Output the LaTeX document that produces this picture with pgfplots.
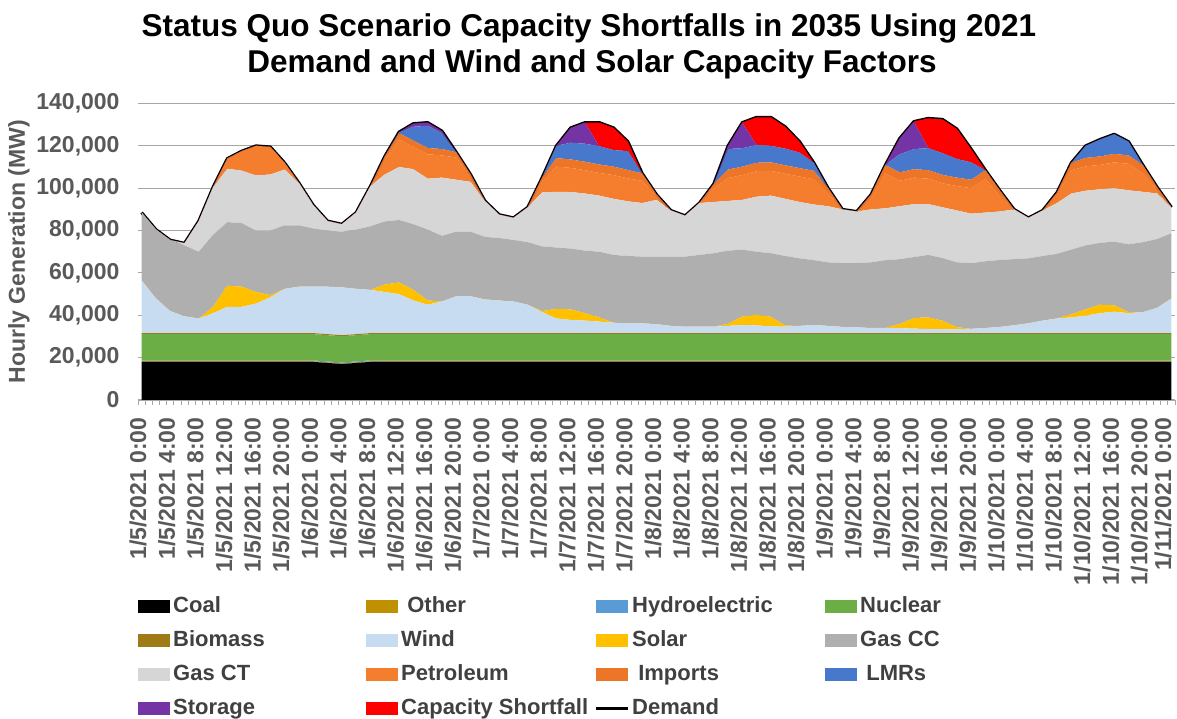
\documentclass[border=0pt]{standalone}
\usepackage{pgfplots}
\pgfplotsset{compat=1.18}
\usepackage{pgfplotstable}
\usepackage{fontspec}
\setmainfont{Liberation Sans}

\definecolor{tickgray}{HTML}{595959}
\definecolor{leggray}{HTML}{404040}
\definecolor{gridgray}{HTML}{A6A6A6}
\definecolor{cCoal}{HTML}{000000}
\definecolor{cOther}{HTML}{BF9000}
\definecolor{cHydro}{HTML}{5B9BD5}
\definecolor{cNuclear}{HTML}{6CAE46}
\definecolor{cBiomass}{HTML}{9E7B14}
\definecolor{cWind}{HTML}{C8DCF1}
\definecolor{cSolar}{HTML}{FFC000}
\definecolor{cGasCC}{HTML}{AFAFAF}
\definecolor{cGasCT}{HTML}{D6D6D6}
\definecolor{cPetro}{HTML}{F47E2E}
\definecolor{cImports}{HTML}{EC7528}
\definecolor{cLMR}{HTML}{4878CC}
\definecolor{cStorage}{HTML}{7434A6}
\definecolor{cShort}{HTML}{FF0000}

\pgfplotsset{
  arealeg/.style={legend image code/.code={\fill[##1] (0pt,-6.5pt) rectangle (32pt,6.5pt);}},
  demandleg/.style={legend image code/.code={\draw[##1] (0pt,0pt) -- (32pt,0pt);}},
}

% hourly generation, thousands of MW (every 2 hours)
\pgfplotstableread{
h coal other hydro nuclear biomass wind solar gascc gasct petro imports lmr storage short demand
0 18 0.3 0.4 12.4 0.5 24.9 0 32.0 0 0 0 0 0 0 88.5
2 18 0.3 0.4 12.4 0.5 16.4 0 32.5 0 0 0 0 0 0 80.5
4 18 0.3 0.4 12.4 0.5 10.4 0 33.5 0 0 0 0 0 0 75.5
6 18 0.3 0.4 12.4 0.5 7.9 0 33.5 1.0 0 0 0 0 0 74.0
8 18 0.3 0.4 12.4 0.5 6.9 0 31.5 14.5 0 0 0 0 0 84.5
10 18 0.3 0.4 12.4 0.5 9.4 3 34 22.5 0 0 0 0 0 100.5
12 18 0.3 0.4 12.4 0.5 12.4 10 30 25.2 4.8 0 0 0 0 114
14 18 0.3 0.4 12.4 0.5 12.4 9.5 30 24.8 9.2 0 0 0 0 117.5
16 18 0.3 0.4 12.4 0.5 13.9 5.5 29 26 14 0 0 0 0 120
18 18 0.3 0.4 12.4 0.5 16.9 1 30.5 26.5 13 0 0 0 0 119.5
20 18 0.3 0.4 12.4 0.5 20.9 0 30 26.3 3.2 0 0 0 0 112
22 18 0.3 0.4 12.4 0.5 21.9 0 29 20 0 0 0 0 0 102.5
24 18 0.3 0.4 12.4 0.5 21.9 0 27.5 11 0 0 0 0 0 92
26 17.5 0.3 0.4 12.4 0.5 22.4 0 26.5 4.5 0 0 0 0 0 84.5
28 17 0.3 0.4 12.4 0.5 22.6 0 26.3 3.5 0 0 0 0 0 83
30 17.5 0.3 0.4 12.4 0.5 21.4 0 28 8 0 0 0 0 0 88.5
32 18 0.3 0.4 12.4 0.5 20.4 0 30 19 0 0 0 0 0 101
34 18 0.3 0.4 12.4 0.5 19.4 3.5 29.8 22.2 6.5 2 0 0 0 115
36 18 0.3 0.4 12.4 0.5 18.4 5.5 29.5 25 13 3 0.5 0 0 126.5
38 18 0.3 0.4 12.4 0.5 15.4 5 31 26 10.5 3 6.5 1.5 0 130.5
40 18 0.3 0.4 12.4 0.5 13.4 2 33.5 24 11.5 3 10.5 1.5 0 131
42 18 0.3 0.4 12.4 0.5 14.9 0 31 27.5 10.5 3 7.5 1 0 127
44 18 0.3 0.4 12.4 0.5 17.4 0 30.5 24.5 10.5 2.5 0 0 0 117
46 18 0.3 0.4 12.4 0.5 17.4 0 30.5 23.5 2.5 1 0 0 0 106.5
48 18 0.3 0.4 12.4 0.5 15.9 0 29.5 17 0 0 0 0 0 94
50 18 0.3 0.4 12.4 0.5 15.4 0 29.5 11 0 0 0 0 0 87.5
52 18 0.3 0.4 12.4 0.5 14.9 0 29.1 10.4 0 0 0 0 0 86
54 18 0.3 0.4 12.4 0.5 13.4 0 29.5 16.5 0 0 0 0 0 91
56 18 0.3 0.4 12.4 0.5 9.9 0.5 30.5 25.5 5 2 0 0 0 105
58 18 0.3 0.4 12.4 0.5 6.9 4.5 29 26.3 11.9 4 5.8 0 0 120
60 18 0.3 0.4 12.4 0.5 6.2 5 28.7 26.7 11.4 4 7.9 7 0 128.5
62 18 0.3 0.4 12.4 0.5 5.9 3.5 29.5 27 11 4 8.5 10 0 131
64 18 0.3 0.4 12.4 0.5 5.4 2 31 26.5 10.7 4 8.6 0 11.2 131
66 18 0.3 0.4 12.4 0.5 4.9 0 32 26.5 11.2 4 7.8 0 10.5 128.5
68 18 0.3 0.4 12.4 0.5 4.6 0 31.8 25.8 10.8 4 8.9 0 4.5 122
70 18 0.3 0.4 12.4 0.5 4.6 0 31.5 25.3 10.5 3.5 0 0 0 107
72 18 0.3 0.4 12.4 0.5 4.2 0 31.9 26.8 1.5 1 0 0 0 97
74 18 0.3 0.4 12.4 0.5 3.4 0 32.7 21.8 0 0 0 0 0 89.5
76 18 0.3 0.4 12.4 0.5 3.0 0 33.1 19.3 0 0 0 0 0 87
78 18 0.3 0.4 12.4 0.5 3.0 0 33.9 24.5 0 0 0 0 0 93
80 18 0.3 0.4 12.4 0.5 3.0 0 34.7 24.2 6.5 2 0 0 0 102
82 18 0.3 0.4 12.4 0.5 3.4 1 34.5 23.5 10.8 4 9.7 1.5 0 120
84 18 0.3 0.4 12.4 0.5 3.8 4 31.6 23.5 11.7 4 8.7 12.1 0 131
86 18 0.3 0.4 12.4 0.5 3.6 5 29.8 26 12 4 8.4 0 13.1 133.5
88 18 0.3 0.4 12.4 0.5 3.2 4.5 30 27.2 11.7 4 7.8 0 13.5 133.5
90 18 0.3 0.4 12.4 0.5 3.0 0.5 32.9 27 11.8 4 7.9 0 10.3 129
92 18 0.3 0.4 12.4 0.5 3.4 0 31.9 26.6 12 4 7.3 0 5.2 122
94 18 0.3 0.4 12.4 0.5 3.8 0 30.6 26.3 11.9 4 3.8 0 0 112
96 18 0.3 0.4 12.4 0.5 3.4 0 30 26.5 6 2.5 0 0 0 100
98 18 0.3 0.4 12.4 0.5 2.9 0 30.1 25.4 0 0 0 0 0 90
100 18 0.3 0.4 12.4 0.5 2.7 0 30.3 24.4 0 0 0 0 0 89
102 18 0.3 0.4 12.4 0.5 2.4 0 31 25 5 2 0 0 0 97
104 18 0.3 0.4 12.4 0.5 2.4 0 32 24.5 16.5 4 0 0 0 111
106 18 0.3 0.4 12.4 0.5 2.3 2 30.6 25 12 4 8.5 7.5 0 123.5
108 18 0.3 0.4 12.4 0.5 2.1 5 28.8 25 12.5 4 9.5 13 0 131.5
110 18 0.3 0.4 12.4 0.5 1.9 5.5 29.5 24 12 4 10.4 0 14.1 133
112 18 0.3 0.4 12.4 0.5 1.8 4 29.6 24 11.3 4 10.2 0 16 132.5
114 18 0.3 0.4 12.4 0.5 1.8 1 30.6 24.5 11.5 4 8.8 0 14.2 128
116 18 0.3 0.4 12.4 0.5 2.0 0 31 23.4 12 4 8.2 0 6.3 118.5
118 18 0.3 0.4 12.4 0.5 2.4 0 31.5 23 16 4 0 0 0 108.5
120 18 0.3 0.4 12.4 0.5 2.9 0 31.6 22.9 7 3 0 0 0 99
122 18 0.3 0.4 12.4 0.5 3.7 0 31.2 23.5 0 0 0 0 0 90
124 18 0.3 0.4 12.4 0.5 4.6 0 30.7 19.1 0 0 0 0 0 86
126 18 0.3 0.4 12.4 0.5 5.9 0 30.5 21.5 0 0 0 0 0 89.5
128 18 0.3 0.4 12.4 0.5 6.9 0 30.5 24 3.5 1.5 0 0 0 98
130 18 0.3 0.4 12.4 0.5 7.4 1.5 30.5 26.5 11 3.5 0 0 0 112
132 18 0.3 0.4 12.4 0.5 8.2 3 30.2 25.8 11.5 4 5.7 0 0 120
134 18 0.3 0.4 12.4 0.5 9.4 4 29.2 25.3 11.5 4 8 0 0 123
136 18 0.3 0.4 12.4 0.5 10.1 3 30.1 25.2 12.2 4 9.3 0 0 125.5
138 18 0.3 0.4 12.4 0.5 9.4 0.5 32 25.5 12.5 4 6.5 0 0 122
140 18 0.3 0.4 12.4 0.5 9.9 0 33 23.8 8.7 4 0 0 0 111
142 18 0.3 0.4 12.4 0.5 11.9 0 32.5 21.5 2 1 0 0 0 100.5
144 18 0.3 0.4 12.4 0.5 16.4 0 30.7 12.3 0 0 0 0 0 91
}\gen

\begin{document}
\begin{tikzpicture}[x=1pt,y=1pt]
\useasboundingbox (0,0) rectangle (1177,719);
\node[anchor=base, font=\bfseries\fontsize{31.5}{36}\selectfont] at (589,682) {Status Quo Scenario Capacity Shortfalls in 2035 Using 2021};
\node[anchor=base, font=\bfseries\fontsize{31.5}{36}\selectfont] at (592,646) {Demand and Wind and Solar Capacity Factors};
\begin{axis}[
  at={(138pt,319pt)}, anchor=south west,
  scale only axis, width=1037pt, height=296.5pt,
  xmin=-0.5, xmax=144.5, ymin=0, ymax=140,
  stack plots=y,
  axis x line*=bottom, axis y line*=left,
  y axis line style={draw=none},
  x axis line style={draw=gridgray, line width=1pt},
  ymajorgrids, grid style={draw=gridgray, line width=1.1pt},
  ytick={0,20,...,140},
  yticklabels={0,{20,000},{40,000},{60,000},{80,000},{100,000},{120,000},{140,000}},
  xtick={0,4,...,140},
  xticklabels={{1/5/2021 0:00},{1/5/2021 4:00},{1/5/2021 8:00},{1/5/2021 12:00},{1/5/2021 16:00},{1/5/2021 20:00},
    {1/6/2021 0:00},{1/6/2021 4:00},{1/6/2021 8:00},{1/6/2021 12:00},{1/6/2021 16:00},{1/6/2021 20:00},
    {1/7/2021 0:00},{1/7/2021 4:00},{1/7/2021 8:00},{1/7/2021 12:00},{1/7/2021 16:00},{1/7/2021 20:00},
    {1/8/2021 0:00},{1/8/2021 4:00},{1/8/2021 8:00},{1/8/2021 12:00},{1/8/2021 16:00},{1/8/2021 20:00},
    {1/9/2021 0:00},{1/9/2021 4:00},{1/9/2021 8:00},{1/9/2021 12:00},{1/9/2021 16:00},{1/9/2021 20:00},
    {1/10/2021 0:00},{1/10/2021 4:00},{1/10/2021 8:00},{1/10/2021 12:00},{1/10/2021 16:00},{1/10/2021 20:00}},
  extra x ticks={144},
  extra x tick labels={{1/11/2021 0:00}},
  extra x tick style={xticklabel style={yshift=5pt}},
  minor xtick={-0.5,0.5,...,144.5},
  tick align=outside,
  major tick style={draw=none},
  minor tick style={draw=gridgray, line width=0.8pt},
  minor tick length=5pt,
  xticklabel style={rotate=90, anchor=east, inner sep=0pt, font=\bfseries\fontsize{23}{24}\selectfont, text=tickgray, xshift=-13pt, yshift=3.5pt},
  yticklabel style={anchor=east, inner sep=0pt, font=\bfseries\fontsize{23}{24}\selectfont, text=tickgray, xshift=-14pt},
  ylabel={Hourly Generation (MW)},
  ylabel style={at={(axis description cs:-0.1148,0.5)}, anchor=center, font=\bfseries\fontsize{23}{24}\selectfont, text=tickgray},
  legend columns=4,
  legend cell align=left,
  legend style={at={(axis description cs:0,-0.661)}, anchor=north west, draw=none, fill=none, inner sep=0pt,
    font=\bfseries\fontsize{22}{22}\selectfont, text=leggray, row sep=13.5pt,
    nodes={inner sep=0pt, text height=16pt, text depth=4.5pt},
    /tikz/every odd column/.append style={column sep=3pt}},
]
\addplot[fill=cCoal, draw=none, arealeg] table[x=h,y=coal]{\gen} \closedcycle;
\addlegendentry{\makebox[193pt][l]{Coal}}
\addplot[fill=cOther, draw=none, arealeg] table[x=h,y=other]{\gen} \closedcycle;
\addlegendentry{\makebox[193pt][l]{\ Other}}
\addplot[fill=cHydro, draw=none, arealeg] table[x=h,y=hydro]{\gen} \closedcycle;
\addlegendentry{\makebox[193pt][l]{Hydroelectric}}
\addplot[fill=cNuclear, draw=none, arealeg] table[x=h,y=nuclear]{\gen} \closedcycle;
\addlegendentry{\makebox[193pt][l]{Nuclear}}
\addplot[fill=cBiomass, draw=none, arealeg] table[x=h,y=biomass]{\gen} \closedcycle;
\addlegendentry{\makebox[193pt][l]{Biomass}}
\addplot[fill=cWind, draw=none, arealeg] table[x=h,y=wind]{\gen} \closedcycle;
\addlegendentry{\makebox[193pt][l]{Wind}}
\addplot[fill=cSolar, draw=none, arealeg] table[x=h,y=solar]{\gen} \closedcycle;
\addlegendentry{\makebox[193pt][l]{Solar}}
\addplot[fill=cGasCC, draw=none, arealeg] table[x=h,y=gascc]{\gen} \closedcycle;
\addlegendentry{\makebox[193pt][l]{Gas CC}}
\addplot[fill=cGasCT, draw=none, arealeg] table[x=h,y=gasct]{\gen} \closedcycle;
\addlegendentry{\makebox[193pt][l]{Gas CT}}
\addplot[fill=cPetro, draw=none, arealeg] table[x=h,y=petro]{\gen} \closedcycle;
\addlegendentry{\makebox[193pt][l]{Petroleum}}
\addplot[fill=cImports, draw=none, arealeg] table[x=h,y=imports]{\gen} \closedcycle;
\addlegendentry{\makebox[193pt][l]{\ Imports}}
\addplot[fill=cLMR, draw=none, arealeg] table[x=h,y=lmr]{\gen} \closedcycle;
\addlegendentry{\makebox[193pt][l]{\ LMRs}}
\addplot[fill=cStorage, draw=none, arealeg] table[x=h,y=storage]{\gen} \closedcycle;
\addlegendentry{\makebox[193pt][l]{Storage}}
\addplot[fill=cShort, draw=none, arealeg] table[x=h,y=short]{\gen} \closedcycle;
\addlegendentry{\makebox[193pt][l]{Capacity Shortfall}}
\addplot[stack plots=false, black, line width=3pt, line join=round, demandleg] table[x=h,y=demand]{\gen};
\addlegendentry{\makebox[193pt][l]{Demand}}
\end{axis}
\end{tikzpicture}
\end{document}
